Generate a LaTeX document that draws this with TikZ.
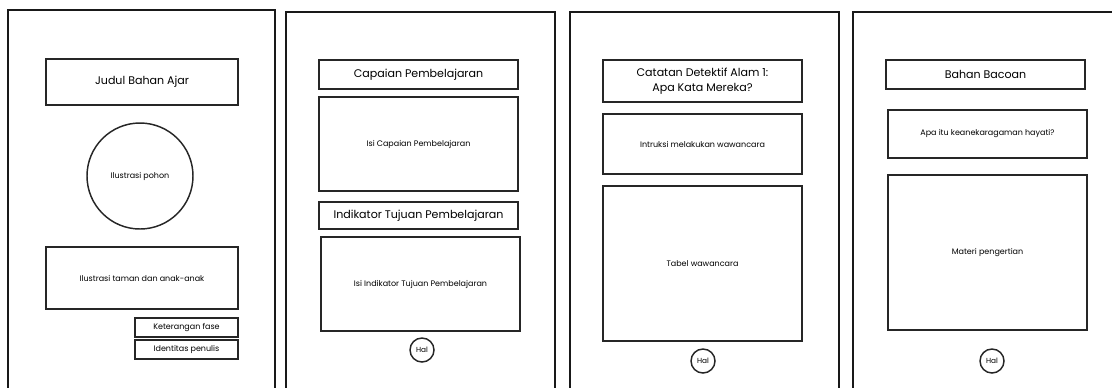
\documentclass[tikz,border=0pt]{standalone}
\usepackage{fontspec}
\setmainfont{Poppins}
\begin{document}
\begin{tikzpicture}[x=0.75pt,y=-0.75pt]
        \tikzstyle{page} = [draw=black!90, line width=1.9pt]
        \tikzstyle{box} = [rectangle, draw=black!85, line width=1.1pt, minimum width=149.25pt, text centered, inner sep=0pt, font=\fontsize{6}{7}\selectfont]
        \tikzstyle{head} = [box, font=\fontsize{8.3}{11.5}\selectfont, align=center]
        \tikzstyle{bulat} = [circle, draw=black!85, line width=1.1pt, inner sep=0pt, text centered]
        \useasboundingbox (0,0) rectangle (1112,387);
        \clip (0,0) rectangle (1112,387);
        % halaman
        \draw[page] (8,10) rectangle (275,400);
        \draw[page] (286,12) rectangle (555,400);
        \draw[page] (570,12) rectangle (839,400);
        \draw[page] (853,12) rectangle (1120,400);
        % sampul
        \node (judul) [head, minimum width=144pt, minimum height=34.5pt] at (142, 82) {Judul Bahan Ajar};
        \node (pohon) [bulat, minimum size=79.5pt, font=\fontsize{6}{7}\selectfont] at (140, 176) {Ilustrasi pohon};
        \node (taman) [box, minimum width=144pt, minimum height=46.5pt] at (142, 278) {Ilustrasi taman dan anak-anak};
        \node (fase) [box, minimum width=77.25pt, minimum height=14.25pt] at (186.5, 327.5) {Keterangan fase};
        \node (penulis) [box, minimum width=77.25pt, minimum height=14.25pt] at (186.5, 349.5) {Identitas penulis};
        % capaian
        \node (cp) [head, minimum height=21.75pt] at (418.5, 74.5) {Capaian Pembelajaran};
        \node (isicp) [box, minimum height=70.5pt] at (418.5, 144) {Isi Capaian Pembelajaran};
        \node (itp) [head, minimum height=20.25pt] at (418.5, 215.5) {Indikator Tujuan Pembelajaran};
        \node (isiitp) [box, minimum height=70.5pt] at (420.5, 284) {Isi Indikator Tujuan Pembelajaran};
        \node (hal2) [bulat, minimum size=18pt, font=\fontsize{5.5}{6}\selectfont] at (422, 350) {Hal};
        % detektif
        \node (cda) [head, minimum height=31.5pt] at (702.5, 81) {Catatan Detektif Alam 1:\\Apa Kata Mereka?};
        \node (intruksi) [box, minimum height=45pt] at (702.5, 144) {Intruksi melakukan wawancara};
        \node (tabel) [box, minimum height=116.25pt] at (702.5, 263.5) {Tabel wawancara};
        \node (hal3) [bulat, minimum size=18pt, font=\fontsize{5.5}{6}\selectfont] at (703, 361) {Hal};
        % bacaan
        \node (bacaan) [head, minimum height=21.75pt] at (985.5, 74.5) {Bahan Bacoan};
        \node (apa) [box, minimum height=36pt] at (987.5, 134) {Apa itu keanekaragaman hayati?};
        \node (materi) [box, minimum height=116.25pt] at (987.5, 252.5) {Materi pengertian};
        \node (hal4) [bulat, minimum size=18pt, font=\fontsize{5.5}{6}\selectfont] at (992, 361) {Hal};
\end{tikzpicture}
\end{document}
